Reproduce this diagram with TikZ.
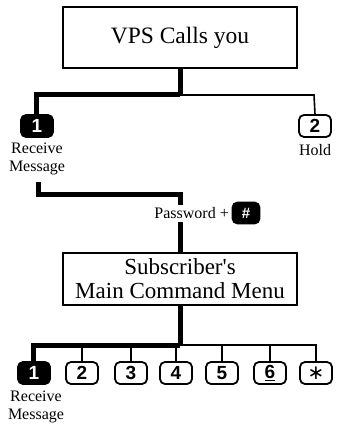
\documentclass[tikz,border=0pt]{standalone}
\usepackage{fontspec}
\setmainfont{Liberation Serif}
\newfontfamily\keyfont{Liberation Sans}
\newfontfamily\symfont{DejaVu Sans}
\usetikzlibrary{calc}
\begin{document}
\begin{tikzpicture}[x=1pt,y=-1pt,
  menubox/.style={draw,line width=1.3pt,minimum width=234pt,inner sep=0pt,align=center,font=\fontsize{23.5}{25}\selectfont},
  keybox/.style={draw,line width=1.8pt,rounded corners=5pt,minimum width=32pt,minimum height=22pt,inner sep=0pt,font=\keyfont\bfseries\fontsize{19}{19}\selectfont},
  keyblack/.style={keybox,fill=black,text=white},
  lbl/.style={align=center,font=\fontsize{16}{18}\selectfont,inner sep=0pt},
  thick line/.style={line width=5pt},
  thin line/.style={line width=1.6pt}]
\useasboundingbox (0,0) rectangle (337,433);
% top box
\node[menubox,minimum height=61pt] (vps) at (180,37.5) {VPS Calls you};
\coordinate (j1) at (180,95);
\coordinate (j1l) at (36,95);
\coordinate (j1r) at (314,95);
\node[keyblack] (k1a) at (37,126) {1};
\node[keybox] (k2a) at (315,126) {2};
\node[lbl] (rm1) at (37,159) {Receive\\Message};
\node[lbl] (hold) at (315,150) {Hold};
\draw[thick line] (vps.south) -- (j1);
\draw[thick line] (j1) -- (j1l) -- (j1l |- k1a.north);
\draw[thin line] (j1) -- (j1r) -- (k2a.north);
% password
\node[lbl,anchor=east] (pw) at (229,213) {Password +};
\node[keyblack,minimum width=27pt,minimum height=21pt,font=\keyfont\bfseries\fontsize{15}{15}\selectfont] (hash) at (246,213) {\#};
\coordinate (p1) at (38,182);
\coordinate (p2) at (38,194);
\coordinate (p3) at (180,194);
\coordinate (p4) at (180,205);
\coordinate (p5) at (180,222);
\draw[thick line] (p1) -- (p2) -- (p3) -- (p4);
% second box
\node[menubox,minimum height=52pt,font=\fontsize{23}{24}\selectfont] (menu) at (180,279) {Subscriber\textquotesingle s\\Main Command Menu};
\draw[thick line] (p5) -- (menu.north);
\coordinate (j2) at (180,345);
\coordinate (j2l) at (33,345);
\coordinate (j2r) at (316,345);
\node[keyblack] (b1) at (34,373) {1};
\node[keybox] (b2) at (82,373) {2};
\node[keybox] (b3) at (131,373) {3};
\node[keybox] (b4) at (176,373) {4};
\node[keybox] (b5) at (222,373) {5};
\node[keybox] (b6) at (270,373) {\underline{6}};
\node[keybox,font=\symfont\fontsize{20}{20}\selectfont] (bs) at (316,373) {∗};
\node[lbl] (rm2) at (36,407) {Receive\\Message};
\draw[thick line] (menu.south) -- (j2);
\draw[thick line] (j2) -- (j2l) -- (j2l |- b1.north);
\draw[thin line] (j2) -- (j2r) -- (bs.north);
\foreach \k in {b2,b3,b4,b5,b6} \draw[thin line] (\k.north |- j2) -- (\k.north);
\end{tikzpicture}
\end{document}
